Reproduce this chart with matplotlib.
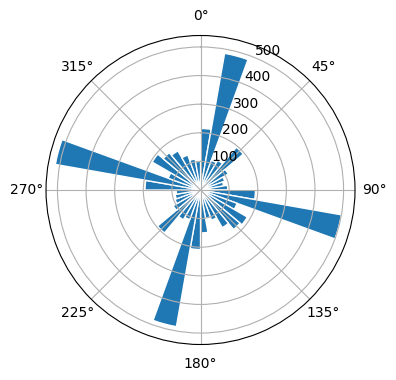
import numpy as np
import matplotlib
matplotlib.use("Agg")
import matplotlib.pyplot as plt

# Direction bin centres (degrees, clockwise from north) and counts
directions_deg = list(range(5, 360, 10))
counts = [
    215, 485, 110, 120, 195, 112, 90, 82, 95,      # 5 .. 85
    192, 500, 136, 189, 180, 152, 112, 100, 150,   # 95 .. 175
    208, 485, 110, 120, 196, 110, 95, 90, 85,      # 185 .. 265
    194, 515, 120, 195, 170, 158, 130, 110, 100,   # 275 .. 355
]
bin_width_deg = 10

fig = plt.figure(figsize=(3.96, 3.8), dpi=100)
ax = fig.add_axes([0.1162, 0.0934, 0.7803, 0.8132], projection="polar")
ax.set_theta_zero_location("N")
ax.set_theta_direction(-1)
ax.bar(np.deg2rad(directions_deg), counts, width=np.deg2rad(bin_width_deg),
       color="#1f77b4", edgecolor="white", linewidth=1)
ax.set_rlim(0, 540)
ax.set_rticks([100, 200, 300, 400, 500])
ax.grid(True)
fig.savefig("out.png", dpi=100)
